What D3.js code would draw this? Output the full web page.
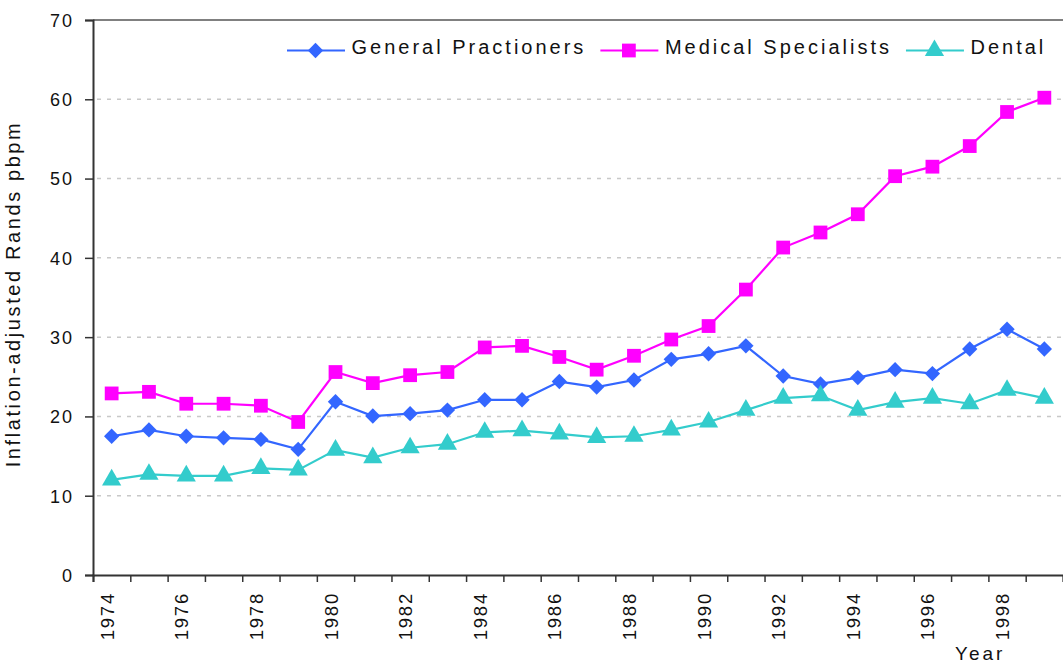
<!DOCTYPE html>
<html>
<head>
<meta charset="utf-8">
<script src="https://cdn.jsdelivr.net/npm/d3@7"></script>
<style>
  body { margin: 0; background: #fff; }
  svg { font-family: "Liberation Sans", Arial, sans-serif; }
</style>
</head>
<body>
<svg id="chart" width="1063" height="664"></svg>
<script>
// data
const years = d3.range(1974, 2000);
const yearLabels = ["1974","1976","1978","1980","1982","1984","1986","1988","1990","1992","1994","1996","1998"];
const yTicks = [0, 10, 20, 30, 40, 50, 60, 70];

const generalPractioners = [17.5, 18.3, 17.5, 17.3, 17.1, 15.85, 21.85, 20.05, 20.35, 20.8, 22.1, 22.1, 24.4,
  23.7, 24.6, 27.2, 27.9, 28.9, 25.1, 24.1, 24.9, 25.9, 25.4, 28.5, 31.0, 28.5];
const medicalSpecialists = [22.9, 23.1, 21.6, 21.6, 21.35, 19.3, 25.6, 24.2, 25.2, 25.6, 28.7, 28.9, 27.5,
  25.9, 27.65, 29.7, 31.4, 36.0, 41.3, 43.2, 45.5, 50.3, 51.5, 54.1, 58.4, 60.2];
const dental = [12.0, 12.7, 12.5, 12.5, 13.45, 13.25, 15.75, 14.8, 16.05, 16.5, 18.0, 18.2, 17.8,
  17.35, 17.5, 18.3, 19.3, 20.8, 22.3, 22.6, 20.8, 21.8, 22.3, 21.6, 23.3, 22.3];

const seriesNames = ["General Practioners", "Medical Specialists", "Dental"];
const seriesColors = ["#3366ff", "#ff00ff", "#33cccc"];
const seriesSymbols = [d3.symbolDiamond2, d3.symbolSquare, d3.symbolTriangle];
const seriesValues = [generalPractioners, medicalSpecialists, dental];

const plotLeft = 93, plotRight = 1063, plotTop = 20, plotBottom = 575;

const svg = d3.select("#chart");

const x = d3.scaleBand().domain(years).range([plotLeft, plotRight]).padding(0);
const xEdges = d3.scaleLinear().domain([0, years.length]).range([plotLeft, plotRight]);
const y = d3.scaleLinear().domain([0, 70]).range([plotBottom, plotTop]);

// grid lines
svg.append("g")
  .selectAll("line")
  .data(yTicks.filter(d => d > 0 && d < 70))
  .join("line")
  .attr("x1", plotLeft + 4).attr("x2", plotRight)
  .attr("y1", d => y(d)).attr("y2", d => y(d))
  .attr("stroke", "#c8c8c8")
  .attr("stroke-width", 1.5)
  .attr("stroke-dasharray", "4,6");

// top border
svg.append("line")
  .attr("x1", plotLeft).attr("x2", plotRight)
  .attr("y1", y(70)).attr("y2", y(70))
  .attr("stroke", "#808080").attr("stroke-width", 2);

// y axis
const yAxis = d3.axisLeft(y).tickValues(yTicks).tickSize(8).tickPadding(11).tickFormat(d3.format("d"));
const gy = svg.append("g").attr("transform", `translate(${plotLeft},0)`).call(yAxis);
gy.select(".domain").attr("stroke", "#333").attr("stroke-width", 2);
gy.selectAll(".tick line").attr("stroke", "#333").attr("stroke-width", 1.5);
gy.selectAll(".tick text")
  .style("font-size", "18px")
  .style("letter-spacing", "2px")
  .attr("fill", "#111")
  .attr("dy", "0.35em");

// x axis: ticks between categories
const xAxis = d3.axisBottom(xEdges).tickValues(d3.range(0, years.length + 1)).tickSize(7).tickFormat("");
const gx = svg.append("g").attr("transform", `translate(0,${plotBottom})`).call(xAxis);
gx.select(".domain").attr("stroke", "#333").attr("stroke-width", 2);
gx.selectAll(".tick line").attr("stroke", "#333").attr("stroke-width", 1.5);

svg.append("g")
  .selectAll("text")
  .data(yearLabels)
  .join("text")
  .attr("transform", d => `translate(${x(+d) + x.bandwidth() / 2 + 2},${plotBottom + 17}) rotate(-90)`)
  .attr("text-anchor", "end")
  .style("font-size", "18.5px")
  .style("letter-spacing", "1.8px")
  .attr("fill", "#111")
  .text(d => d);

// axis titles
svg.append("text")
  .attr("transform", `translate(19.5,294) rotate(-90)`)
  .attr("text-anchor", "middle")
  .style("font-size", "20px")
  .style("letter-spacing", "2.6px")
  .attr("fill", "#111")
  .text("Inflation-adjusted Rands pbpm");

svg.append("text")
  .attr("x", 955).attr("y", 660)
  .style("font-size", "19px")
  .style("letter-spacing", "3px")
  .attr("fill", "#111")
  .text("Year");

// series
const line = d3.line()
  .x((d, i) => x(years[i]) + x.bandwidth() / 2)
  .y(d => y(d));

const symbolSizes = [150, 190, 160];

seriesValues.forEach((vals, s) => {
  const g = svg.append("g");
  g.append("path")
    .attr("d", line(vals))
    .attr("fill", "none")
    .attr("stroke", seriesColors[s])
    .attr("stroke-width", 2.2);
  g.selectAll("path.pt")
    .data(vals)
    .join("path")
    .attr("class", "pt")
    .attr("transform", (d, i) => `translate(${x(years[i]) + x.bandwidth() / 2},${y(d)})`)
    .attr("d", d3.symbol().type(seriesSymbols[s]).size(symbolSizes[s]))
    .attr("fill", seriesColors[s]);
});

// legend
let lx = 287;
const ly = 50.5;
seriesNames.forEach((name, s) => {
  const g = svg.append("g");
  g.append("line")
    .attr("x1", lx).attr("x2", lx + 58)
    .attr("y1", ly).attr("y2", ly)
    .attr("stroke", seriesColors[s]).attr("stroke-width", 2.2);
  g.append("path")
    .attr("transform", `translate(${lx + 28.5},${ly})`)
    .attr("d", d3.symbol().type(seriesSymbols[s]).size(symbolSizes[s]))
    .attr("fill", seriesColors[s]);
  const t = g.append("text")
    .attr("x", lx + 64.5).attr("y", ly + 3.5)
    .style("font-size", "20px")
    .style("letter-spacing", "3px")
    .attr("fill", "#111")
    .text(name);
  lx = lx + 64.5 + t.node().getComputedTextLength() + 14;
});
</script>
</body>
</html>
